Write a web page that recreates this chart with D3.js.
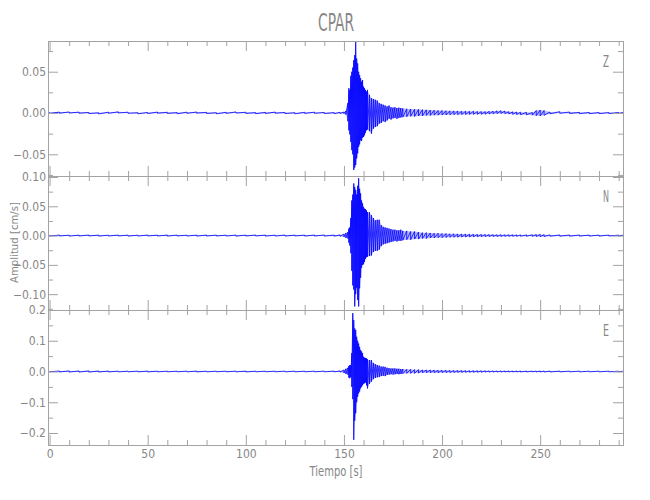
<!DOCTYPE html>
<html>
<head>
<meta charset="utf-8">
<script src="https://cdn.jsdelivr.net/npm/d3@7/dist/d3.min.js"></script>
<style>
  html, body { margin: 0; padding: 0; background: #ffffff; }
  svg { display: block; }
</style>
</head>
<body>
<div id="chart"></div>
<script>
// ---------------- DATA ----------------
// sample times [s]
const timeSec = [
  0,5,10,15,20,25,30,35,40,45,50,55,60,65,70,75,80,85,90,95,100,105,110,115,120,125,130,135,140,145,
  148,150,151,
  152,152.5,153,153.5,154,154.5,155,155.5,156,156.5,157,157.5,158,158.5,159,159.5,160,160.5,161,161.5,162,
  163,164,165,166,167,168,169,170,171,172,173,174,175,176,177,178,179,180,
  182,184,186,188,190,192,194,196,198,200,202,204,206,208,210,212,214,216,218,220,222,224,226,228,230,232,234,236,238,240,
  243,246,248,250,252,255,260,265,270,275,280,285,290,292
];

// Z component: upper / lower peak amplitude per sample [cm/s]
const zHigh = [
  0.0009,0.0011,0.0013,0.0011,0.0007,0.0003,0.0010,0.0014,0.0010,0.0004,0.0007,0.0011,0.0009,0.0005,0.0010,0.0012,0.0008,0.0004,0.0009,0.0013,0.0009,0.0005,0.0008,0.0011,0.0007,0.0004,0.0009,0.0010,0.0007,0.0005,
  0.0008,0.0012,0.0025,
  0.012,0.030,0.028,0.045,0.050,0.055,0.064,0.070,0.086,0.066,0.060,0.050,0.046,0.042,0.038,0.040,0.032,0.030,0.028,0.026,0.028,
  0.022,0.018,0.017,0.016,0.015,0.012,0.011,0.010,0.009,0.008,0.009,0.007,0.0065,0.007,0.006,0.0065,0.006,0.0055,
  0.005,0.0048,0.0045,0.0044,0.004,0.0038,0.0035,0.0033,0.003,0.003,0.0028,0.0026,0.0025,0.0024,0.0022,0.0022,0.002,0.0022,0.0018,0.0018,0.0017,0.002,0.0022,0.0026,0.0028,0.0024,0.0016,0.0014,0.0012,0.001,
  0.0008,0.0006,0.0030,0.0036,0.0030,0.0012,0.0016,0.0012,0.0008,0.0007,0.0006,0.0006,0.0006,0.0006
];
const zLow = [
  -0.0005,-0.0003,-0.0001,-0.0003,-0.0007,-0.0011,-0.0004,0.0000,-0.0004,-0.0010,-0.0007,-0.0003,-0.0005,-0.0009,-0.0004,-0.0002,-0.0006,-0.0010,-0.0005,-0.0001,-0.0005,-0.0009,-0.0006,-0.0003,-0.0007,-0.0010,-0.0005,-0.0004,-0.0007,-0.0009,
  -0.0006,-0.0008,-0.0020,
  -0.010,-0.021,-0.026,-0.035,-0.045,-0.050,-0.069,-0.066,-0.063,-0.055,-0.049,-0.041,-0.038,-0.033,-0.034,-0.030,-0.029,-0.027,-0.024,-0.021,-0.020,
  -0.022,-0.025,-0.019,-0.017,-0.016,-0.013,-0.012,-0.010,-0.011,-0.009,-0.007,-0.008,-0.0065,-0.006,-0.007,-0.006,-0.0055,-0.005,
  -0.0045,-0.004,-0.0042,-0.0036,-0.0035,-0.003,-0.003,-0.0027,-0.0026,-0.0025,-0.0024,-0.0022,-0.002,-0.002,-0.0019,-0.0018,-0.0017,-0.0016,-0.0016,-0.0015,-0.0014,-0.0012,-0.001,-0.0008,-0.0006,-0.0008,-0.0012,-0.0016,-0.0018,-0.002,
  -0.0022,-0.0026,-0.0032,-0.0036,-0.0028,-0.0010,-0.0004,-0.0006,-0.0008,-0.0008,-0.0008,-0.0007,-0.0007,-0.0007
];

// N component
const nHigh = [
  0.0008,0.0009,0.0007,0.0008,0.0010,0.0008,0.0007,0.0009,0.0008,0.0007,0.0009,0.0008,0.0010,0.0008,0.0007,0.0008,0.0009,0.0008,0.0007,0.0009,0.0008,0.0010,0.0008,0.0007,0.0009,0.0008,0.0008,0.0009,0.0010,0.0009,
  0.0012,0.0025,0.0045,
  0.006,0.012,0.014,0.030,0.060,0.070,0.089,0.083,0.078,0.070,0.085,0.098,0.080,0.072,0.060,0.055,0.049,0.046,0.045,0.043,0.040,
  0.040,0.035,0.030,0.026,0.027,0.027,0.018,0.015,0.014,0.013,0.012,0.011,0.010,0.010,0.009,0.009,0.010,0.008,
  0.008,0.007,0.007,0.006,0.005,0.005,0.0045,0.004,0.004,0.0035,0.0035,0.003,0.003,0.0028,0.0026,0.0025,0.0024,0.0022,0.002,0.002,0.0018,0.0017,0.0016,0.0015,0.0015,0.0014,0.0013,0.0013,0.0012,0.0012,
  0.0012,0.0014,0.0018,0.0020,0.0016,0.0012,0.0011,0.0010,0.0010,0.0009,0.0009,0.0009,0.0008,0.0008
];
const nLow = [
  -0.0008,-0.0007,-0.0009,-0.0008,-0.0007,-0.0009,-0.0008,-0.0007,-0.0009,-0.0008,-0.0007,-0.0008,-0.0009,-0.0007,-0.0008,-0.0009,-0.0008,-0.0007,-0.0008,-0.0009,-0.0008,-0.0007,-0.0009,-0.0008,-0.0008,-0.0007,-0.0009,-0.0008,-0.0009,-0.0010,
  -0.0012,-0.0022,-0.0040,
  -0.005,-0.012,-0.017,-0.030,-0.060,-0.085,-0.092,-0.121,-0.100,-0.089,-0.110,-0.121,-0.090,-0.072,-0.055,-0.050,-0.049,-0.045,-0.040,-0.037,-0.036,
  -0.035,-0.034,-0.028,-0.026,-0.026,-0.024,-0.018,-0.015,-0.014,-0.013,-0.012,-0.011,-0.010,-0.009,-0.010,-0.009,-0.009,-0.008,
  -0.007,-0.007,-0.006,-0.006,-0.005,-0.005,-0.004,-0.004,-0.0035,-0.0035,-0.0032,-0.003,-0.0028,-0.0027,-0.0025,-0.0024,-0.0022,-0.002,-0.002,-0.0018,-0.0017,-0.0016,-0.0015,-0.0015,-0.0014,-0.0013,-0.0013,-0.0012,-0.0012,-0.0011,
  -0.0011,-0.0013,-0.0016,-0.0018,-0.0015,-0.0011,-0.0010,-0.0010,-0.0009,-0.0009,-0.0009,-0.0008,-0.0008,-0.0008
];

// E component
const eHigh = [
  0.0010,0.0016,0.0020,0.0019,0.0020,0.0017,0.0014,0.0012,0.0011,0.0012,0.0014,0.0012,0.0011,0.0010,0.0012,0.0014,0.0011,0.0010,0.0011,0.0012,0.0014,0.0011,0.0010,0.0011,0.0012,0.0011,0.0010,0.0011,0.0012,0.0014,
  0.0020,0.0050,0.0090,
  0.012,0.018,0.021,0.020,0.060,0.190,0.167,0.140,0.135,0.113,0.100,0.091,0.080,0.070,0.065,0.060,0.048,0.045,0.044,0.043,0.040,
  0.037,0.037,0.028,0.024,0.021,0.019,0.016,0.016,0.015,0.012,0.011,0.010,0.010,0.010,0.009,0.009,0.008,0.008,
  0.007,0.007,0.006,0.006,0.005,0.005,0.005,0.0045,0.004,0.004,0.0038,0.0035,0.0033,0.003,0.003,0.0028,0.0026,0.0025,0.0024,0.0022,0.0022,0.002,0.002,0.0019,0.0018,0.0018,0.0017,0.0017,0.0016,0.0016,
  0.0014,0.0014,0.0016,0.0018,0.0016,0.0014,0.0013,0.0012,0.0012,0.0011,0.0011,0.0011,0.0010,0.0010
];
const eLow = [
  -0.0010,-0.0016,-0.0020,-0.0019,-0.0020,-0.0017,-0.0014,-0.0012,-0.0011,-0.0012,-0.0014,-0.0012,-0.0011,-0.0010,-0.0012,-0.0014,-0.0011,-0.0010,-0.0011,-0.0012,-0.0014,-0.0011,-0.0010,-0.0011,-0.0012,-0.0011,-0.0010,-0.0011,-0.0012,-0.0014,
  -0.0020,-0.0050,-0.0080,
  -0.010,-0.020,-0.022,-0.018,-0.050,-0.090,-0.222,-0.160,-0.136,-0.100,-0.082,-0.071,-0.065,-0.055,-0.050,-0.045,-0.040,-0.038,-0.036,-0.045,-0.055,
  -0.040,-0.033,-0.025,-0.021,-0.019,-0.018,-0.015,-0.014,-0.015,-0.011,-0.010,-0.009,-0.010,-0.009,-0.008,-0.009,-0.008,-0.007,
  -0.006,-0.006,-0.006,-0.005,-0.004,-0.004,-0.004,-0.004,-0.004,-0.0035,-0.0035,-0.0033,-0.003,-0.003,-0.0028,-0.0026,-0.0025,-0.0024,-0.0022,-0.0022,-0.002,-0.002,-0.0019,-0.0018,-0.0018,-0.0017,-0.0017,-0.0016,-0.0016,-0.0016,
  -0.0014,-0.0014,-0.0016,-0.0018,-0.0016,-0.0014,-0.0013,-0.0012,-0.0012,-0.0011,-0.0011,-0.0011,-0.0010,-0.0010
];

// ticks
const timeMajorTicks = [0, 50, 100, 150, 200, 250];
const timeMinorTicks = [10,20,30,40,60,70,80,90,110,120,130,140,160,170,180,190,210,220,230,240,260,270,280,290];
const zMajorTicks = [-0.05, 0.00, 0.05];
const zMinorTicks = [-0.075, -0.025, 0.025, 0.075];
const nMajorTicks = [-0.10, -0.05, 0.00, 0.05, 0.10];
const nMinorTicks = [-0.125, -0.075, -0.025, 0.025, 0.075];
const eMajorTicks = [-0.2, -0.1, 0.0, 0.1, 0.2];
const eMinorTicks = [-0.15, -0.05, 0.05, 0.15];

const titleText = "CPAR";
const xTitle = "Tiempo [s]";
const yTitle = "Amplitud [cm/s]";
const componentNames = ["Z", "N", "E"];

// ---------------- DRAWING ----------------
const W = 650, H = 500;
const FONT = "'Liberation Sans Narrow','DejaVu Sans Condensed','Liberation Sans',sans-serif";
const AXIS = "#a3a3a3", TEXT = "#878787", TRACE = "#0000ff";
const L = 48, R = 623;

const svg = d3.select("#chart").append("svg")
  .attr("width", W).attr("height", H)
  .attr("font-family", FONT);

const x = d3.scaleLinear().domain([-0.8, 292.2]).range([L, R]);

const panels = [
  { name: componentNames[0], hi: zHigh, lo: zLow, dom: [-0.0763, 0.0872], top: 41,  bot: 176, major: zMajorTicks, minor: zMinorTicks, fmt: ".2f" },
  { name: componentNames[1], hi: nHigh, lo: nLow, dom: [-0.127, 0.1017],  top: 176, bot: 310, major: nMajorTicks, minor: nMinorTicks, fmt: ".2f" },
  { name: componentNames[2], hi: eHigh, lo: eLow, dom: [-0.239, 0.2],     top: 310, bot: 445, major: eMajorTicks, minor: eMinorTicks, fmt: ".1f" }
];

function styleAxis(g) {
  g.select(".domain").attr("stroke", AXIS).attr("stroke-width", 1);
  g.selectAll(".tick line").attr("stroke", AXIS).attr("stroke-width", 1);
  g.selectAll(".tick text").attr("fill", TEXT).attr("font-size", 12).attr("font-family", FONT);
}

panels.forEach((p, idx) => {
  const y = d3.scaleLinear().domain(p.dom).range([p.bot, p.top]);
  const isBottom = idx === panels.length - 1;
  const n = Math.min(timeSec.length, p.hi.length, p.lo.length);
  const idxs = d3.range(n);

  // light envelope fill between lower and upper peaks
  svg.append("path")
    .attr("d", d3.area().x(i => x(timeSec[i])).y0(i => y(p.lo[i])).y1(i => y(p.hi[i]))(idxs))
    .attr("fill", TRACE)
    .attr("fill-opacity", 0.28)
    .attr("stroke", "none");

  // trace: peak-to-peak oscillation per sample
  const pts = [];
  idxs.forEach(i => {
    pts.push([x(timeSec[i]), y(p.hi[i])]);
    pts.push([x(timeSec[i]), y(p.lo[i])]);
  });
  svg.append("path")
    .attr("d", d3.line()(pts))
    .attr("fill", "none")
    .attr("stroke", TRACE)
    .attr("stroke-width", 0.8)
    .attr("stroke-linejoin", "round");

  // left axis
  svg.append("g").attr("transform", `translate(${L},0)`)
    .call(d3.axisLeft(y).tickValues(p.major).tickSize(-10).tickSizeOuter(0).tickPadding(2).tickFormat(d3.format(p.fmt)))
    .call(styleAxis);
  svg.append("g").attr("transform", `translate(${L},0)`)
    .call(d3.axisLeft(y).tickValues(p.minor).tickSize(-5).tickSizeOuter(0).tickFormat(""))
    .call(styleAxis);
  // right axis
  svg.append("g").attr("transform", `translate(${R},0)`)
    .call(d3.axisRight(y).tickValues(p.major).tickSize(-10).tickSizeOuter(0).tickFormat(""))
    .call(styleAxis);
  svg.append("g").attr("transform", `translate(${R},0)`)
    .call(d3.axisRight(y).tickValues(p.minor).tickSize(-5).tickSizeOuter(0).tickFormat(""))
    .call(styleAxis);
  // top axis
  svg.append("g").attr("transform", `translate(0,${p.top})`)
    .call(d3.axisTop(x).tickValues(timeMajorTicks).tickSize(-10).tickSizeOuter(0).tickFormat(""))
    .call(styleAxis);
  svg.append("g").attr("transform", `translate(0,${p.top})`)
    .call(d3.axisTop(x).tickValues(timeMinorTicks).tickSize(-5).tickSizeOuter(0).tickFormat(""))
    .call(styleAxis);
  // bottom axis
  svg.append("g").attr("transform", `translate(0,${p.bot})`)
    .call(d3.axisBottom(x).tickValues(timeMajorTicks).tickSize(-10).tickSizeOuter(0).tickPadding(4)
      .tickFormat(isBottom ? d3.format("d") : ""))
    .call(styleAxis);
  svg.append("g").attr("transform", `translate(0,${p.bot})`)
    .call(d3.axisBottom(x).tickValues(timeMinorTicks).tickSize(-5).tickSizeOuter(0).tickFormat(""))
    .call(styleAxis);

  // component letter
  svg.append("text")
    .attr("x", 606).attr("y", p.top + 25.7)
    .attr("text-anchor", "middle")
    .attr("font-size", 15)
    .attr("textLength", 6).attr("lengthAdjust", "spacingAndGlyphs")
    .attr("fill", TEXT)
    .text(p.name);
});

// title
svg.append("text")
  .attr("x", 336).attr("y", 31)
  .attr("text-anchor", "middle")
  .attr("font-size", 24)
  .attr("textLength", 36).attr("lengthAdjust", "spacingAndGlyphs")
  .attr("fill", TEXT)
  .text(titleText);

// x title
svg.append("text")
  .attr("x", 336).attr("y", 476)
  .attr("text-anchor", "middle")
  .attr("font-size", 14)
  .attr("textLength", 53).attr("lengthAdjust", "spacingAndGlyphs")
  .attr("fill", TEXT)
  .text(xTitle);

// y title
svg.append("text")
  .attr("transform", "translate(17.5,242.5) rotate(-90)")
  .attr("text-anchor", "middle")
  .attr("font-size", 11)
  .attr("textLength", 81).attr("lengthAdjust", "spacingAndGlyphs")
  .attr("fill", TEXT)
  .text(yTitle);
</script>
</body>
</html>
